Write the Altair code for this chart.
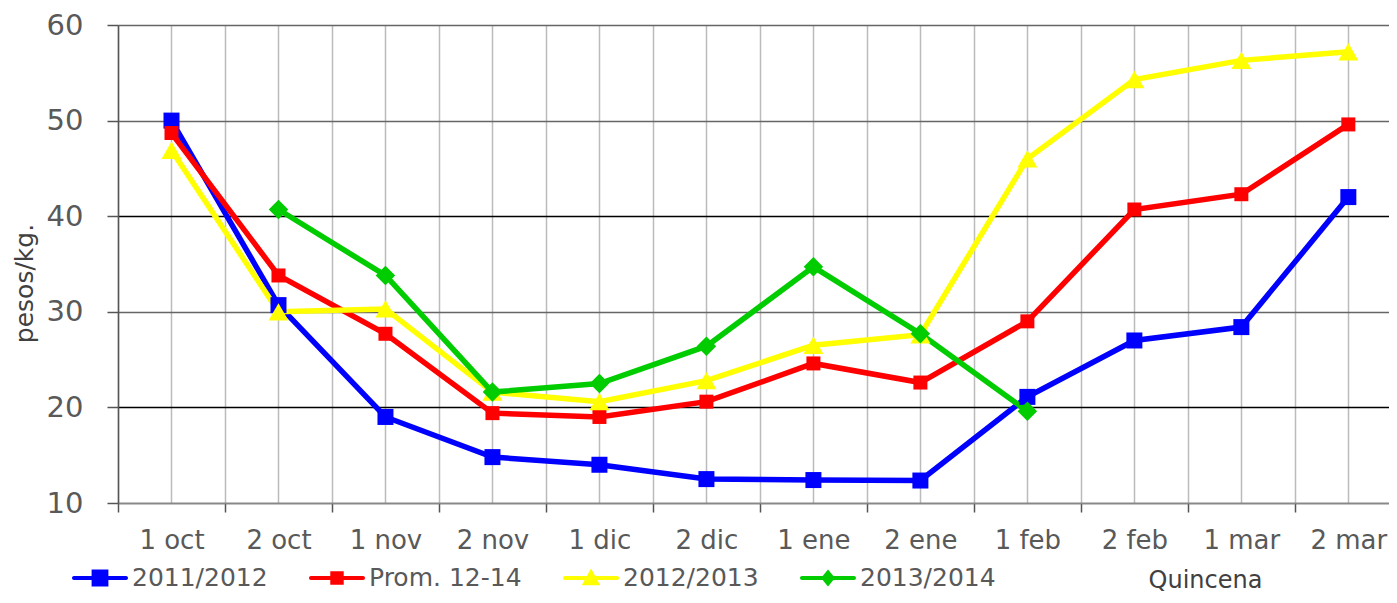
import altair as alt
import pandas as pd

categories = ["1 oct", "2 oct", "1 nov", "2 nov", "1 dic", "2 dic",
              "1 ene", "2 ene", "1 feb", "2 feb", "1 mar", "2 mar"]
series_names = ["2011/2012", "Prom. 12-14", "2012/2013", "2013/2014"]
s2011 = [50.0, 30.7, 19.0, 14.8, 14.0, 12.5, 12.4, 12.35, 21.1, 27.0, 28.4, 42.0]
sprom = [48.7, 33.8, 27.7, 19.4, 19.0, 20.6, 24.6, 22.6, 29.0, 40.7, 42.3, 49.6]
s2012 = [46.9, 30.0, 30.3, 21.6, 20.6, 22.8, 26.5, 27.6, 46.0, 54.3, 56.3, 57.2]
s2013 = [None, 40.7, 33.8, 21.6, 22.5, 26.4, 34.7, 27.7, 19.6, None, None, None]
colors = ["#0000FF", "#FF0000", "#FFFF00", "#00CC00"]
shapes = ["square", "square", "triangle-up", "diamond"]
sizes = [256, 196, 400, 380]
y_ticks = [10, 20, 30, 40, 50, 60]

rows = []
for name, vals in zip(series_names, [s2011, sprom, s2012, s2013]):
    for i, v in enumerate(vals):
        if v is not None:
            rows.append({"series": name, "idx": i, "v": v})
df = pd.DataFrame(rows)

# grid / tick positions: category centres and the boundaries between them
x_vals = [i * 0.5 - 0.5 for i in range(24)]
cat_js = "[" + ",".join("'" + c + "'" for c in categories) + "]"
label_expr = f"datum.value % 1 === 0 ? {cat_js}[datum.value] : ''"

line_path = "M-0.93,-0.07H0.93A0.07,0.07,0,0,1,0.93,0.07H-0.93A0.07,0.07,0,0,1,-0.93,-0.07Z"
marker_paths = [
    "M-0.3,-0.3H0.3V0.3H-0.3Z",
    "M-0.24,-0.24H0.24V0.24H-0.24Z",
    "M0,-0.34L0.33,0.26H-0.33Z",
    "M0,-0.3L0.25,0L0,0.3L-0.25,0Z",
]
sym_expr = "'" + line_path + marker_paths[3] + "'"
for name, mp in reversed(list(zip(series_names[:3], marker_paths[:3]))):
    sym_expr = f"datum.value === '{name}' ? '{line_path}{mp}' : " + sym_expr

x_enc = alt.X(
    "idx:Q",
    scale=alt.Scale(domain=[-0.5, 11.38], nice=False, zero=False),
    axis=alt.Axis(
        values=x_vals,
        labelExpr=label_expr,
        labelOverlap=False,
        labelFlush=False,
        labelFontSize=26,
        labelColor="#595959",
        labelPadding=15,
        tickOpacity=alt.condition("datum.value % 1 !== 0", alt.value(1), alt.value(0)),
        tickSize=9,
        tickWidth=1.5,
        tickColor="#555555",
        grid=True,
        gridColor="#bbbbbb",
        gridWidth=1.5,
        domainColor="#888888",
        domainWidth=1.5,
        title="Quincena",
        titleFontSize=24,
        titleFontWeight="normal",
        titleColor="#404040",
        titleX=1087,
        titleY=77,
        titleBaseline="middle",
    ),
)
y_enc = alt.Y(
    "v:Q",
    scale=alt.Scale(domain=[10, 60], nice=False, zero=False),
    axis=alt.Axis(
        values=y_ticks,
        labelFontSize=29,
        labelColor="#595959",
        labelPadding=24,
        tickSize=11,
        tickWidth=1.5,
        tickColor="#555555",
        domainColor="#555555",
        domainWidth=1.5,
        grid=True,
        gridColor=alt.condition("datum.value === 20 || datum.value === 40",
                                alt.value("#000000"), alt.value("#666666")),
        gridWidth=1.5,
        title="pesos/kg.",
        titleFontSize=25,
        titleFontWeight="normal",
        titleColor="#404040",
        titleX=-94,
        titleY=258,
        titleBaseline="middle",
    ),
)

color_scale = alt.Scale(domain=series_names, range=colors)

lines = alt.Chart(df).mark_line(strokeWidth=5.5).encode(
    x=x_enc, y=y_enc,
    color=alt.Color(
        "series:N", scale=color_scale,
        legend=alt.Legend(
            title=None, orient="none", direction="horizontal",
            legendX=-46, legendY=525,
            symbolType={"expr": sym_expr},
            symbolFillColor={"expr": "scale('color', datum.value)"},
            symbolStrokeColor="transparent",
            symbolSize=3136, symbolStrokeWidth=0,
            labelFontSize=25, labelColor="#595959", labelOffset=4,
            columnPadding=41, labelLimit=400,
        ),
    ),
)

point_layers = []
for name, shp, sz in zip(series_names, shapes, sizes):
    point_layers.append(
        alt.Chart(df).transform_filter(alt.datum.series == name)
        .mark_point(filled=True, opacity=1, strokeWidth=0, shape=shp, size=sz)
        .encode(
            x=x_enc, y=y_enc,
            color=alt.Color("series:N", scale=color_scale, legend=None),
        )
    )

chart = alt.layer(lines, *point_layers).resolve_legend(color="independent").properties(
    width=1271, height=478,
    autosize=alt.AutoSizeParams(type="none"),
    padding={"left": 110, "top": 17, "right": 0, "bottom": 92},
    background="white",
).configure_view(stroke=None).configure(font="DejaVu Sans")

chart.save("out.html", embed_options={"renderer": "svg", "actions": False})
